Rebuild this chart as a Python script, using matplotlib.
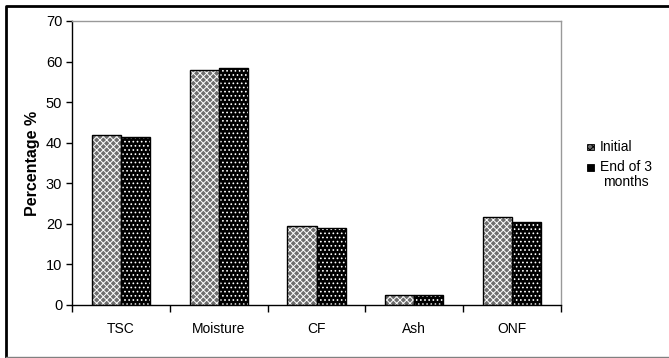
import numpy as np
import matplotlib.pyplot as plt
from matplotlib.patches import Rectangle
from matplotlib.lines import Line2D

plt.rcParams['font.family'] = ['Liberation Sans', 'DejaVu Sans']
plt.rcParams['hatch.linewidth'] = 0.7

# composition before and after storage (%)
categories = ["TSC", "Moisture", "CF", "Ash", "ONF"]
initial = [41.9, 57.8, 19.5, 2.5, 21.6]
end_3_months = [41.4, 58.4, 18.9, 2.5, 20.5]
series_labels = ["Initial", "End of 3\nmonths"]

fill_init = dict(color="#6e6e6e", hatch="xxxxx")
fill_end = dict(color="black", hatch="....")

fig = plt.figure(figsize=(6.69, 3.58), dpi=100)
ax = fig.add_axes([72 / 669, 1 - 305 / 358, 489 / 669, 284 / 358])

x = np.arange(len(categories))
w = 0.297

# patterned fills: hatch drawn in white, outline drawn separately in black
ax.bar(x - w / 2, initial, w, edgecolor="white", linewidth=0, zorder=2, **fill_init)
ax.bar(x + w / 2, end_3_months, w, edgecolor="white", linewidth=0, zorder=2, **fill_end)
ax.bar(x - w / 2, initial, w, fill=False, edgecolor="black", linewidth=1.0, zorder=3)
ax.bar(x + w / 2, end_3_months, w, fill=False, edgecolor="black", linewidth=1.0, zorder=3)

ax.set_xlim(-0.5, len(categories) - 0.5)
ax.set_ylim(0, 70)
ax.set_yticks(range(0, 71, 10))
ax.set_xticks(x)
ax.set_xticklabels(categories, fontsize=10)
ax.tick_params(axis="x", length=0, pad=12)
ax.tick_params(axis="y", direction="out", length=4, width=1, labelsize=10.5, pad=3)

# category separator ticks on the x axis
ax.set_xticks(np.arange(-0.5, len(categories)), minor=True)
ax.tick_params(axis="x", which="minor", direction="out", length=5, width=1)

for side in ["top", "right"]:
    ax.spines[side].set_color("#999999")
    ax.spines[side].set_linewidth(1.0)
for side in ["left", "bottom"]:
    ax.spines[side].set_color("black")
    ax.spines[side].set_linewidth(1.0)

ax.set_ylabel("Percentage %", fontsize=11.5, fontweight="bold", labelpad=4)

# legend, handles aligned with the first line of each label
legend_rows = [(147, fill_init), (167, fill_end)]
for (ypx, fill), label in zip(legend_rows, series_labels):
    fig.add_artist(Rectangle((587 / 669, 1 - (ypx + 3.5) / 358), 7 / 669, 7 / 358,
                             transform=fig.transFigure, facecolor=fill["color"],
                             hatch=fill["hatch"], edgecolor="black", linewidth=0.6))
    fig.text(600 / 669, 1 - (ypx - 7) / 358, label, fontsize=10, va="top",
             ha="left", multialignment="center", linespacing=1.05)

# outer frame: heavy left and top, light bottom
fig.add_artist(Line2D([6 / 669, 6 / 669, 1.0], [1 - 357 / 358, 1 - 6 / 358, 1 - 6 / 358],
                      transform=fig.transFigure, color="black", linewidth=2))
fig.add_artist(Line2D([6 / 669, 1.0], [1 - 356.5 / 358] * 2,
                      transform=fig.transFigure, color="#808080", linewidth=1))

fig.savefig("out.png", dpi=100)
